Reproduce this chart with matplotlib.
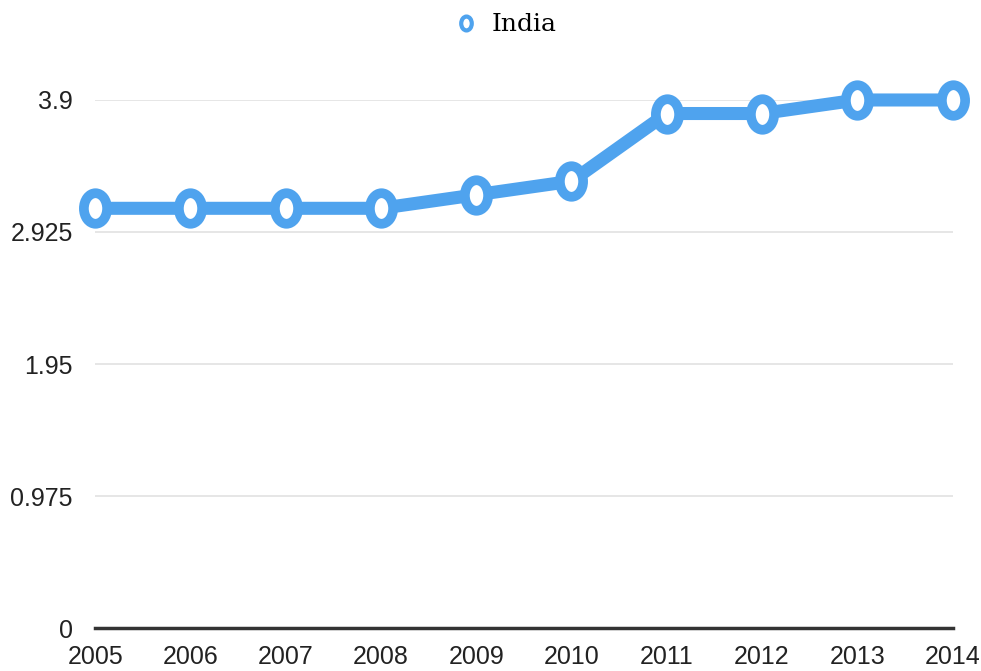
import matplotlib.pyplot as plt
from matplotlib.lines import Line2D
from matplotlib.markers import MarkerStyle
from matplotlib.path import Path
from matplotlib.transforms import Affine2D

years = [2005, 2006, 2007, 2008, 2009, 2010, 2011, 2012, 2013, 2014]
india = [3.1, 3.1, 3.1, 3.1, 3.2, 3.3, 3.8, 3.8, 3.9, 3.9]
y_ticks = [0, 0.975, 1.95, 2.925, 3.9]
y_tick_labels = ['0', '0.975', '1.95', '2.925', '3.9']

blue = '#4fa3ee'

# the source image is a bit stretched vertically, so the dots are ovals
oval = MarkerStyle(Path.unit_circle().transformed(Affine2D().scale(0.76, 1.0)))

fig = plt.figure(figsize=(9.81, 6.71), dpi=100)
ax = fig.add_axes([0.097, 0.064, 0.874, 0.787])

ax.plot(years, india, color=blue, linewidth=9.4, marker=oval, markersize=22,
        markerfacecolor='white', markeredgecolor=blue, markeredgewidth=7,
        clip_on=False, zorder=3)

ax.set_xlim(2005, 2014)
ax.set_ylim(0, 3.9)
ax.set_xticks(years)
ax.set_xticklabels([str(y) for y in years], fontsize=18, family='Liberation Sans', color='#222222')
ax.set_yticks(y_ticks)
ax.set_yticklabels(y_tick_labels, fontsize=18, family='Liberation Sans', color='#222222')
ax.tick_params(axis='both', length=0)
ax.tick_params(axis='x', pad=12)
ax.tick_params(axis='y', pad=16)
ax.get_xticklabels()[-1].set_x(2013.97)

ax.grid(axis='y', color='#e2e2e2', linewidth=1.2)
ax.set_axisbelow(True)
for side in ['left', 'right', 'top']:
    ax.spines[side].set_visible(False)
ax.spines['bottom'].set_color('#333333')
ax.spines['bottom'].set_linewidth(2.5)
ax.spines['bottom'].set_zorder(4)

handle = Line2D([], [], color=blue, linestyle='none', marker=oval, markersize=10,
                markerfacecolor='white', markeredgecolor=blue, markeredgewidth=3)
fig.legend([handle], ['India'], loc='center', bbox_to_anchor=(0.515, 0.963),
           frameon=False, prop={'family': 'DejaVu Serif', 'size': 18},
           handletextpad=0.5, handlelength=1.0)

fig.savefig('out.png', dpi=100)
